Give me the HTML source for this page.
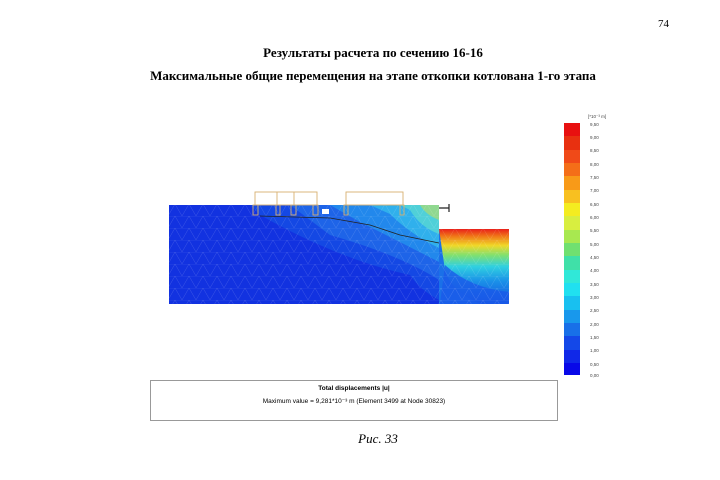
<!DOCTYPE html>
<html><head><meta charset="utf-8"><style>
body{margin:0;background:#fff;}
svg{display:block}
</style></head><body>
<svg width="720" height="480" xmlns="http://www.w3.org/2000/svg">
<defs>
<linearGradient id="rg" x1="0" y1="0" x2="0" y2="1">
<stop offset="0" stop-color="#e8201a"/><stop offset="0.1" stop-color="#f07a18"/><stop offset="0.22" stop-color="#f0d828"/><stop offset="0.35" stop-color="#80e070"/><stop offset="0.5" stop-color="#30d0e0"/><stop offset="0.7" stop-color="#1a90e8"/><stop offset="1" stop-color="#1450e0"/>
</linearGradient>
<pattern id="mesh" width="14" height="12" patternUnits="userSpaceOnUse">
<path d="M0 12 L7 0 L14 12 M0 0 H14" stroke="#ffffff" stroke-opacity="0.18" stroke-width="0.5" fill="none"/>
</pattern>
</defs>
<g font-family="Liberation Serif, serif" fill="#000">
<text x="658" y="27" font-size="11">74</text>
<text x="373" y="57" font-size="13" font-weight="bold" text-anchor="middle">Результаты расчета по сечению 16-16</text>
<text x="373" y="80" font-size="13" font-weight="bold" text-anchor="middle">Максимальные общие перемещения на этапе откопки котлована 1-го этапа</text>
<text x="378" y="443" font-size="13" font-style="italic" text-anchor="middle">Рис. 33</text>
</g>
<rect x="169" y="205" width="270" height="99" fill="#1232e0"/>
<rect x="439" y="229" width="70" height="75" fill="url(#rg)"/>
<path d="M439 229 L439 304 L480 304 Q450 290 445 270 Z" fill="#1a70e8"/>
<path d="M440 304 L509 304 L509 292 Q470 288 445 265 Z" fill="#1a5ae8" opacity="0.8"/>
<path d="M250 205 L439 205 L439 300 Q420 290 410 275 Q340 260 260 215 Z" fill="#1448e4"/>
<path d="M290 205 L439 205 L439 280 Q400 255 330 235 Z" fill="#1e64e8"/>
<path d="M330 205 L439 205 L439 262 Q400 242 360 222 Z" fill="#2288ec"/>
<path d="M370 205 L439 205 L439 248 Q410 234 390 214 Z" fill="#30b0ec"/>
<path d="M400 205 L439 205 L439 234 Q420 227 410 210 Z" fill="#50d0d8"/>
<path d="M418 205 L439 205 L439 220 Q426 215 420 205 Z" fill="#90d890"/>
<rect x="169" y="205" width="340" height="99" fill="url(#mesh)"/>
<path d="M260 216 L330 218 L370 225 L400 235 L439 243" stroke="#222" stroke-width="0.8" fill="none"/>
<g stroke="#d8b070" stroke-width="0.9" fill="none">
<rect x="255" y="192" width="62" height="13"/>
<rect x="346" y="192" width="57" height="13"/>
<line x1="277" y1="192" x2="277" y2="205"/><line x1="294" y1="192" x2="294" y2="205"/>
<rect x="253" y="205" width="5" height="10"/><rect x="276" y="205" width="4" height="10"/><rect x="291" y="205" width="5" height="10"/><rect x="313" y="205" width="5" height="10"/><rect x="344" y="205" width="4" height="10"/><rect x="400" y="205" width="4" height="10"/>
</g>
<rect x="322" y="209" width="7" height="5" fill="#fff"/>
<path d="M439 208 H449 M449 204 V212" stroke="#222" stroke-width="1.2"/>
<g>
<rect x="564" y="123" width="16" height="13" fill="#e81010"/>
<rect x="564" y="136" width="16" height="14" fill="#e83010"/>
<rect x="564" y="150" width="16" height="13" fill="#f04a18"/>
<rect x="564" y="163" width="16" height="13" fill="#f46e18"/>
<rect x="564" y="176" width="16" height="14" fill="#f89a18"/>
<rect x="564" y="190" width="16" height="13" fill="#f8c020"/>
<rect x="564" y="203" width="16" height="13" fill="#f4ec20"/>
<rect x="564" y="216" width="16" height="14" fill="#d8ee40"/>
<rect x="564" y="230" width="16" height="13" fill="#a8e850"/>
<rect x="564" y="243" width="16" height="13" fill="#70e070"/>
<rect x="564" y="256" width="16" height="14" fill="#40e0a8"/>
<rect x="564" y="270" width="16" height="13" fill="#30e8d8"/>
<rect x="564" y="283" width="16" height="13" fill="#20e0f0"/>
<rect x="564" y="296" width="16" height="14" fill="#18c0f0"/>
<rect x="564" y="310" width="16" height="13" fill="#1898ec"/>
<rect x="564" y="323" width="16" height="13" fill="#1870e8"/>
<rect x="564" y="336" width="16" height="14" fill="#1448e8"/>
<rect x="564" y="350" width="16" height="13" fill="#1028e8"/>
<rect x="564" y="363" width="16" height="12" fill="#0808e8"/>
</g>
<g font-family="Liberation Sans, sans-serif" font-size="4.5" fill="#444">
<text x="588" y="118">[*10⁻³ m]</text>
<text x="590" y="126">9,50</text><text x="590" y="139">9,00</text><text x="590" y="152">8,50</text><text x="590" y="166">8,00</text><text x="590" y="179">7,50</text><text x="590" y="192">7,00</text><text x="590" y="206">6,50</text><text x="590" y="219">6,00</text><text x="590" y="232">5,50</text><text x="590" y="246">5,00</text><text x="590" y="259">4,50</text><text x="590" y="272">4,00</text><text x="590" y="286">3,50</text><text x="590" y="299">3,00</text><text x="590" y="312">2,50</text><text x="590" y="326">2,00</text><text x="590" y="339">1,50</text><text x="590" y="352">1,00</text><text x="590" y="366">0,50</text><text x="590" y="377">0,00</text>
</g>
<rect x="150.5" y="380.5" width="407" height="40" fill="none" stroke="#999"/>
<g font-family="Liberation Sans, sans-serif" font-size="6.5" fill="#000" text-anchor="middle">
<text x="354" y="390" font-weight="bold">Total displacements |u|</text>
<text x="354" y="403">Maximum value = 9,281*10⁻³ m (Element 3499 at Node 30823)</text>
</g>
</svg>
</body></html>
